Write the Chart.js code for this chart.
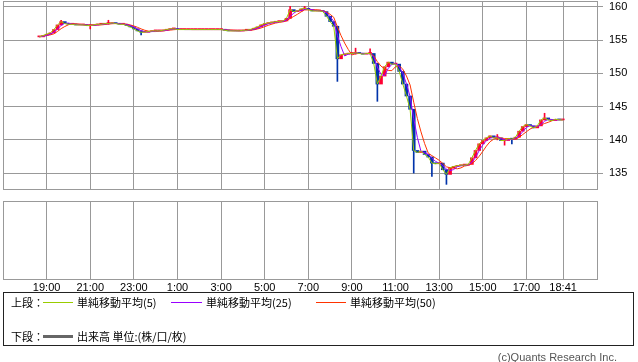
<!DOCTYPE html>
<html><head><meta charset="utf-8">
<script src="https://cdn.jsdelivr.net/npm/chart.js@4/dist/chart.umd.min.js"></script>
<style>
html,body{margin:0;padding:0;background:#fff;}
body{width:638px;height:362px;overflow:hidden;position:relative;font-family:"Liberation Sans",Arial,sans-serif;}
#c1{position:absolute;left:0;top:0;}
#c2{position:absolute;left:0;top:195px;}
#legend{position:absolute;left:3px;top:292px;width:629px;height:52px;border:1px solid #222;}
.t{position:absolute;font:11px "Noto Sans CJK JP",sans-serif;color:#000;line-height:14px;white-space:nowrap;}
.ln{position:absolute;height:1px;}
#copy{position:absolute;right:21px;top:350px;font:11px "Liberation Sans",Arial,sans-serif;color:#555;line-height:14px;}
</style></head>
<body>
<canvas id="c1" width="638" height="200"></canvas>
<canvas id="c2" width="638" height="105"></canvas>
<div id="legend"></div>
<div class="t" style="left:11px;top:295px;">上段：</div>
<div class="ln" style="left:43px;top:302px;width:30px;background:#99cc00;"></div>
<div class="t" style="left:77px;top:295px;">単純移動平均(5)</div>
<div class="ln" style="left:171px;top:302px;width:31px;background:#9900ff;"></div>
<div class="t" style="left:206px;top:295px;">単純移動平均(25)</div>
<div class="ln" style="left:316px;top:302px;width:30px;background:#ff3300;"></div>
<div class="t" style="left:350px;top:295px;">単純移動平均(50)</div>
<div class="t" style="left:11px;top:329px;">下段：</div>
<div class="ln" style="left:43px;top:335px;width:30px;height:3px;background:#666;"></div>
<div class="t" style="left:77px;top:329px;">出来高 単位:(株/口/枚)</div>
<div id="copy">(c)Quants Research Inc.</div>
<script>
// ---- data ----
const startMin = 100;   // 18:40, minutes since 17:00 of day 1
const stepMin = 10;     // sampling step of the closes (minutes)
const closes = [
155.5,155.7,155.9,156.1,156.6,157.3,157.8,157.5,157.4,157.4,
157.3,157.3,157.3,157.2,157.2,157.3,157.4,157.4,157.5,157.5,
157.6,157.5,157.4,157.4,157.2,157.0,156.7,156.4,156.2,156.2,
156.3,156.4,156.4,156.4,156.5,156.6,156.7,156.7,156.6,156.6,
156.6,156.6,156.6,156.6,156.6,156.6,156.6,156.6,156.6,156.6,
156.6,156.5,156.4,156.4,156.4,156.4,156.5,156.5,156.6,156.8,
157.0,157.3,157.5,157.6,157.7,157.8,157.8,157.9,158.3,159.6,
159.3,159.4,159.7,159.8,159.6,159.4,159.4,159.4,159.3,158.6,
157.8,157.1,152.2,152.8,152.9,153.0,153.0,153.1,153.0,152.9,
153.0,153.0,151.5,148.4,149.6,151.0,151.7,151.4,151.4,150.3,
148.4,146.6,144.6,138.4,138.1,138.3,137.8,137.4,136.5,136.4,
136.5,135.5,134.8,135.8,136.0,136.1,136.2,136.2,136.3,137.3,
138.4,139.4,139.9,140.3,140.6,140.3,140.3,139.9,139.9,140.2,
140.1,140.4,141.3,142.0,142.3,142.1,141.8,142.1,143.0,143.3,
143.0,142.9,143.1,143.0,143.0
];
// [sample index, low, high] for visible wicks
const spikes = [
[6,157.3,158.0],[14,156.7,157.3],[19,157.4,158.0],[28,155.8,156.4],
[69,158.3,160.1],[73,159.6,160.1],[82,148.8,157.1],[87,152.9,153.8],
[91,152.9,153.7],[93,145.8,151.5],[103,135.0,144.6],[108,134.5,137.4],
[112,133.3,135.5],[126,140.0,140.8],[128,139.2,140.0],[130,139.4,140.2],
[139,143.0,144.0]
];
const tickMinutes = [120,240,360,480,600,720,840,960,1080,1200,1320,1440,1541];
const tickLabels = ['19:00','21:00','23:00','1:00','3:00','5:00','7:00','9:00','11:00','13:00','15:00','17:00','18:41'];
const priceTicks = [135,140,145,150,155,160];
const maPeriods = [5,25,50];           // minutes
const maColors = ['#99cc00','#9900ff','#ff3300'];
const upColor = '#ff0033', downColor = '#0033aa';

// ---- derived ----
const times = closes.map((_, i) => startMin + i * stepMin);
const bodies = closes.map((c, i) => {
  const o = i > 0 ? closes[i - 1] : c;
  return {x: times[i], y: [o, c]};
});
const bodyColors = closes.map((c, i) => (i > 0 && c < closes[i - 1]) ? downColor : upColor);
const wicks = spikes.map(s => ({x: times[s[0]], y: [s[1], s[2]]}));
const wickColors = spikes.map(s => bodyColors[s[0]]);
function sma(n) {
  const p = Math.max(1, Math.round(n / stepMin));
  return closes.map((_, i) => {
    const a = Math.max(0, i - p + 1);
    let s = 0; for (let k = a; k <= i; k++) s += closes[k];
    return {x: times[i], y: s / (i - a + 1)};
  });
}

const frame = {
  id: 'frame',
  afterDraw(chart) {
    const a = chart.chartArea, ctx = chart.ctx;
    ctx.save(); ctx.strokeStyle = '#999'; ctx.lineWidth = 1;
    ctx.strokeRect(Math.round(a.left) + 0.5, Math.round(a.top) + 0.5,
      Math.round(a.right - a.left) - 1, Math.round(a.bottom - a.top) - 1);
    ctx.restore();
  }
};
const noPad = s => { s.paddingTop = 0; s.paddingBottom = 0; s.paddingLeft = 0; s.paddingRight = 0; };
const xCommon = (showLabels) => ({
  type: 'linear', min: 0, max: 1637, offset: false,
  afterBuildTicks: s => { s.ticks = tickMinutes.map(v => ({value: v})); },
  afterFit: s => { s.height = showLabels ? 20 : 0; noPad(s); },
  grid: {color: '#999', lineWidth: 1, drawTicks: false, offset: false},
  border: {display: false},
  ticks: {display: showLabels, padding: 1, color: '#000', maxRotation: 0, autoSkip: false,
    font: {family: 'Liberation Sans', size: 11},
    callback: (v) => tickLabels[tickMinutes.indexOf(v)]}
});

new Chart(document.getElementById('c1'), {
  data: {
    datasets: [
      ...maPeriods.map((p, k) => ({type: 'line', data: sma(p), borderColor: maColors[k],
        borderWidth: 1, pointRadius: 0, tension: 0, order: 0})),
      {type: 'bar', data: bodies, backgroundColor: bodyColors, barThickness: 3,
        minBarLength: 1, grouped: false, order: 1},
      {type: 'bar', data: wicks, backgroundColor: wickColors, barThickness: 1,
        grouped: false, order: 1}
    ]
  },
  options: {
    responsive: false, animation: false, events: [],
    layout: {padding: {left: 3, top: 1, right: 0, bottom: 10}},
    plugins: {legend: {display: false}, tooltip: {enabled: false}},
    scales: {
      x: xCommon(false),
      y: {position: 'right', min: 132.45, max: 160.9,
        afterBuildTicks: s => { s.ticks = priceTicks.map(v => ({value: v})); },
        afterFit: s => { s.width = 40; noPad(s); },
        grid: {color: '#999', lineWidth: 1, drawTicks: true, tickLength: 5},
        border: {display: false},
        ticks: {padding: 6, color: '#000', font: {family: 'Liberation Sans', size: 11}}}
    }
  },
  plugins: [frame]
});

new Chart(document.getElementById('c2'), {
  type: 'bar',
  data: {datasets: [{data: [], backgroundColor: '#666'}]},
  options: {
    responsive: false, animation: false, events: [],
    layout: {padding: {left: 3, top: 6, right: 0, bottom: 0}},
    plugins: {legend: {display: false}, tooltip: {enabled: false}},
    scales: {
      x: xCommon(true),
      y: {position: 'right', min: 0, max: 1,
        afterFit: s => { s.width = 40; noPad(s); },
        grid: {display: false}, border: {display: false},
        ticks: {display: false}}
    }
  },
  plugins: [frame]
});
</script>
</body></html>
